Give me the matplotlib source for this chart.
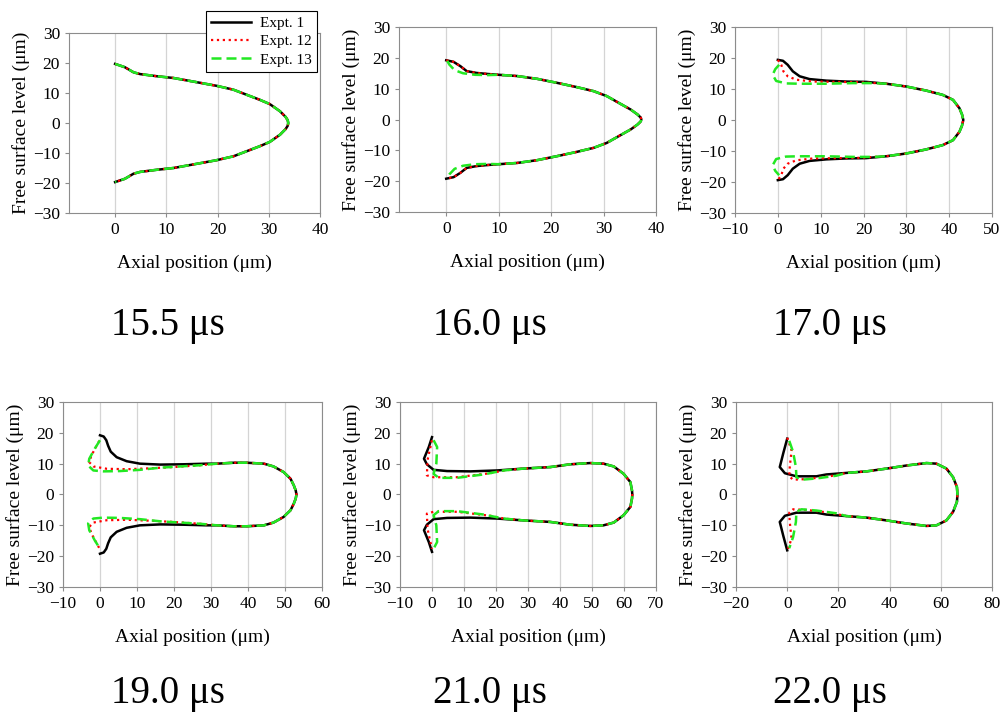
import matplotlib
matplotlib.use("Agg")
import matplotlib.pyplot as plt

plt.rcParams['font.family'] = ['Liberation Serif', 'DejaVu Serif']

# upper half of each free surface profile (lower half is its mirror image)
# each panel: shared tail (x, y) + per-experiment head (x, y)

# 15.5 us - all three experiments coincide
t155_tail_x = [0, 1.9, 3.6, 4.9, 8.1, 11.4, 15.3, 19.8, 23.1, 25.7, 28.3, 30.2, 32.2, 33.3, 33.7, 33.8]
t155_tail_y = [19.7, 18.6, 16.9, 16.3, 15.6, 15.0, 13.8, 12.4, 11.1, 9.4, 7.7, 6.3, 3.9, 2.0, 0.9, 0]
t155_e1_x, t155_e1_y = [], []
t155_e12_x, t155_e12_y = [], []
t155_e13_x, t155_e13_y = [], []

# 16.0 us
t160_tail_x = [10, 13.5, 17.3, 21.1, 24.9, 28.1, 30.6, 33.1, 35.2, 36.5, 37.1, 37.2]
t160_tail_y = [14.5, 14.1, 13.2, 11.9, 10.5, 9.2, 7.6, 5.2, 3.2, 1.6, 0.6, 0]
t160_e1_x = [0, 1.4, 2.7, 3.9, 5.8, 8.0]
t160_e1_y = [19.2, 18.7, 17.3, 15.7, 15.1, 14.75]
t160_e12_x = [0, 1.4, 2.7, 3.9, 5.8, 8.0]
t160_e12_y = [19.2, 18.7, 17.3, 15.7, 15.1, 14.75]
t160_e13_x = [0.2, 0.6, 1.6, 3.2, 5.5, 8.0]
t160_e13_y = [19.0, 17.8, 16.0, 15.0, 14.5, 14.4]

# 17.0 us
t170_tail_x = [25.3, 30, 34.6, 38.5, 40.9, 42.4, 43.0, 43.3]
t170_tail_y = [11.7, 10.8, 9.5, 8.1, 6.5, 3.8, 1.8, 0]
t170_e1_x = [0, 1.2, 2.3, 3.5, 5.1, 7.4, 11.3, 16, 20.6]
t170_e1_y = [19.4, 19.1, 17.8, 15.7, 14.1, 13.2, 12.7, 12.4, 12.3]
t170_e12_x = [0, 0.8, 1.3, 2.3, 4.3, 8.2, 13.6, 19.0]
t170_e12_y = [19.4, 17.8, 15.7, 14.1, 13.0, 12.4, 12.3, 12.2]
t170_e13_x = [0.3, -0.6, -1.2, -0.4, 1.9, 5.1, 11.3, 17.5, 22.2]
t170_e13_y = [17.8, 16.4, 14.6, 12.6, 11.8, 11.7, 11.7, 11.9, 11.9]

# 19.0 us
t190_tail_x = [31.6, 36.1, 39.7, 44.3, 46.9, 49.6, 51.5, 52.4, 52.9, 53.1]
t190_tail_y = [10.0, 10.3, 10.3, 10.0, 9.1, 7.3, 5.1, 2.9, 1.3, 0]
t190_e1_x = [0, 1.0, 1.7, 2.2, 2.9, 4.5, 7.2, 10.8, 16.3, 22.6, 28.9]
t190_e1_y = [19.2, 18.8, 17.6, 15.8, 13.9, 12.1, 10.8, 10.0, 9.7, 9.8, 10.0]
t190_e12_x = [-0.2, -2.3, -2.9, -1.8, 1.8, 7.2, 13.6, 19.9, 27.1]
t190_e12_y = [17.4, 12.7, 10.5, 9.1, 8.35, 8.2, 8.5, 8.9, 9.5]
t190_e13_x = [0, -1.4, -2.9, -3.2, -1.8, 0.9, 5.4, 10.8, 16.3, 21.7, 27.1]
t190_e13_y = [17.6, 14.9, 11.6, 9.4, 7.8, 7.5, 7.6, 8.0, 8.7, 9.1, 9.5]

# 21.0 us
t210_tail_x = [28.6, 37, 43.2, 49.5, 53.6, 56.8, 59.9, 62.0, 62.5, 62.6]
t210_tail_y = [8.4, 8.9, 9.8, 10.2, 10.0, 9.1, 6.7, 4.0, 1.3, 0]
t210_e1_x = [0, -1.0, -2.5, -1.6, 0.5, 4.7, 12.0, 20.3]
t210_e1_y = [18.6, 15.4, 11.6, 9.8, 8.0, 7.6, 7.5, 7.8]
t210_e12_x = [0, -0.7, -1.4, -1.6, 0.5, 7.8, 18.2, 22.5]
t210_e12_y = [17.6, 14.5, 11.1, 6.2, 5.6, 5.6, 6.9, 7.8]
t210_e13_x = [0.5, 1.6, 1.35, 0.5, 2.1, 7.8, 16.1, 22.4]
t210_e13_y = [17.6, 15.4, 10.0, 6.7, 5.4, 5.4, 6.5, 7.8]

# 22.0 us
t220_tail_x = [23.1, 31, 38.8, 46.6, 54.4, 58.3, 62.2, 64.8, 66.3, 66.5]
t220_tail_y = [7.0, 7.5, 8.4, 9.4, 10.2, 10.0, 8.4, 5.6, 2.4, 0]
t220_e1_x = [0, -1.5, -2.9, -0.9, 3.6, 11.4, 15.3]
t220_e1_y = [18.1, 13.5, 8.9, 6.9, 5.9, 5.9, 6.5]
t220_e12_x = [0, 1.7, 1.0, 0.8, 2.3, 7.5, 16.6]
t220_e12_y = [18.4, 14.3, 8.9, 5.9, 4.8, 5.0, 5.9]
t220_e13_x = [0.8, 2.3, 3.4, 3.6, 5.6, 11.4, 19.2]
t220_e13_y = [17.4, 13.8, 8.9, 5.6, 4.8, 5.2, 6.1]

time_labels = ["15.5 μs", "16.0 μs", "17.0 μs", "19.0 μs", "21.0 μs", "22.0 μs"]
xlims = [(-9, 40), (-9, 40), (-10, 50), (-10, 60), (-10, 70), (-20, 80)]
xticks = [range(0, 41, 10), range(0, 41, 10), range(-10, 51, 10),
          range(-10, 61, 10), range(-10, 71, 10), range(-20, 81, 20)]

panels = [
    (t155_tail_x, t155_tail_y, [(t155_e1_x, t155_e1_y), (t155_e12_x, t155_e12_y), (t155_e13_x, t155_e13_y)]),
    (t160_tail_x, t160_tail_y, [(t160_e1_x, t160_e1_y), (t160_e12_x, t160_e12_y), (t160_e13_x, t160_e13_y)]),
    (t170_tail_x, t170_tail_y, [(t170_e1_x, t170_e1_y), (t170_e12_x, t170_e12_y), (t170_e13_x, t170_e13_y)]),
    (t190_tail_x, t190_tail_y, [(t190_e1_x, t190_e1_y), (t190_e12_x, t190_e12_y), (t190_e13_x, t190_e13_y)]),
    (t210_tail_x, t210_tail_y, [(t210_e1_x, t210_e1_y), (t210_e12_x, t210_e12_y), (t210_e13_x, t210_e13_y)]),
    (t220_tail_x, t220_tail_y, [(t220_e1_x, t220_e1_y), (t220_e12_x, t220_e12_y), (t220_e13_x, t220_e13_y)]),
]

labels = ["Expt. 1", "Expt. 12", "Expt. 13"]
styles = [dict(color='black', linestyle='-', linewidth=1.8),
          dict(color='#ff0000', linestyle=':', linewidth=1.6),
          dict(color='#22e822', linestyle=(0, (4, 2)), linewidth=1.8)]

# axes boxes in pixels: left, right, top, bottom
W, H = 1001, 713
boxes = [(69, 320, 33, 213), (399, 656, 27, 212), (735, 992, 27, 213),
         (63, 322, 402, 587), (400, 656, 402, 587), (736, 992, 402, 587)]
text_pos = [(168, 325), (490, 325), (830, 325), (168, 694), (490, 694), (830, 694)]

fig = plt.figure(figsize=(W / 100, H / 100), dpi=100)

handles = None
for i, (tx, ty, heads) in enumerate(panels):
    l, r, t, b = boxes[i]
    ax = fig.add_axes([l / W, 1 - b / H, (r - l) / W, (b - t) / H])
    lines = []
    for (hx, hy), st, lab in zip(heads, styles, labels):
        ux = list(hx) + list(tx)
        uy = list(hy) + list(ty)
        # close the profile with its mirror image
        fx = ux + ux[::-1][1:]
        fy = uy + [-v for v in uy[::-1][1:]]
        ln, = ax.plot(fx, fy, label=lab, **st)
        lines.append(ln)
    if handles is None:
        handles = lines

    ax.set_xlim(*xlims[i])
    ax.set_ylim(-30, 30)
    ax.set_xticks(list(xticks[i]))
    ax.set_yticks(range(-30, 31, 10))
    ax.grid(axis='x', color='#d4d4d4', linewidth=0.9)
    ax.set_axisbelow(True)
    for s in ax.spines.values():
        s.set_color('#8c8c8c')
    ax.tick_params(colors='#8c8c8c', labelcolor='black', labelsize=12.5, length=3)
    ax.set_xlabel("Axial position (μm)", fontsize=14, labelpad=12)
    ax.set_ylabel("Free surface level (μm)", fontsize=14, labelpad=2)

    px, py = text_pos[i]
    fig.text(px / W, 1 - py / H, time_labels[i], fontsize=28, ha='center', va='center')

leg = fig.legend(handles, labels, loc='upper left', bbox_to_anchor=(206 / W, 1 - 11 / H),
                 fontsize=11, frameon=True, fancybox=False, edgecolor='black',
                 borderpad=0.35, labelspacing=0.3, handlelength=2.6, handletextpad=0.6,
                 borderaxespad=0)
leg.get_frame().set_linewidth(0.8)
leg.get_frame().set_alpha(1)

plt.savefig("out.png", dpi=100)
